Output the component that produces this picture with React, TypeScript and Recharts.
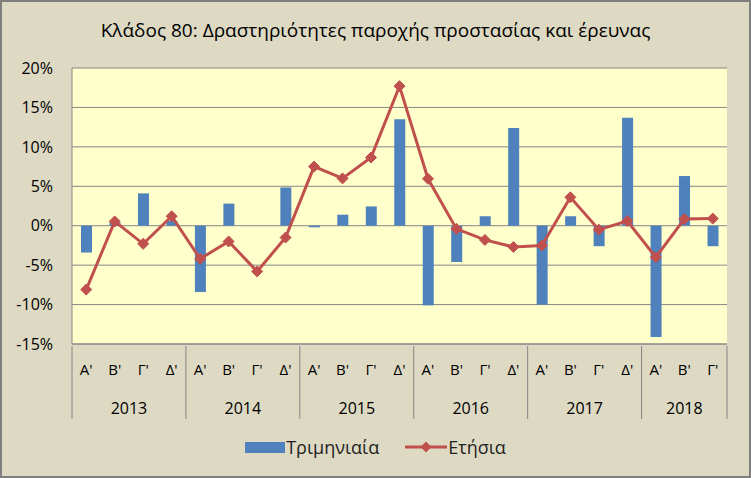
import React from 'react';
import {
  ComposedChart,
  Bar,
  Line,
  XAxis,
  YAxis,
  CartesianGrid,
} from 'recharts';

// quarter / year labels for each category
const quarterLabels = [
  "Α'", "Β'", "Γ'", "Δ'",
  "Α'", "Β'", "Γ'", "Δ'",
  "Α'", "Β'", "Γ'", "Δ'",
  "Α'", "Β'", "Γ'", "Δ'",
  "Α'", "Β'", "Γ'", "Δ'",
  "Α'", "Β'", "Γ'",
];
const yearLabels = [
  '2013', '2013', '2013', '2013',
  '2014', '2014', '2014', '2014',
  '2015', '2015', '2015', '2015',
  '2016', '2016', '2016', '2016',
  '2017', '2017', '2017', '2017',
  '2018', '2018', '2018',
];

// Τριμηνιαία (%)
const quarterly = [
  -3.4, 0.4, 4.1, 0.6,
  -8.4, 2.8, 0, 4.85,
  -0.2, 1.4, 2.45, 13.5,
  -10.1, -4.6, 1.2, 12.4,
  -10.0, 1.2, -2.6, 13.7,
  -14.1, 6.3, -2.6,
];
// Ετήσια (%)
const annual = [
  -8.1, 0.55, -2.3, 1.2,
  -4.2, -2.0, -5.8, -1.5,
  7.5, 6.0, 8.65, 17.7,
  5.95, -0.4, -1.8, -2.7,
  -2.5, 3.6, -0.5, 0.6,
  -4.0, 0.85, 0.9,
];
const yTicks = [-15, -10, -5, 0, 5, 10, 15, 20];

const data = quarterLabels.map((q, i) => ({
  key: i,
  q,
  year: yearLabels[i],
  quarterly: quarterly[i],
  annual: annual[i],
}));

const W = 751;
const H = 478;
const MARGIN = { top: 68, right: 24, left: 0, bottom: 60 };
const Y_AXIS_W = 72;
const Q_AXIS_H = 34;
const YEAR_AXIS_H = 40;
const PLOT_W = W - MARGIN.right - MARGIN.left - Y_AXIS_W;
const BAND = PLOT_W / data.length;

const FONT = '"Open Sans", "Noto Sans", sans-serif';
const BLUE = '#4F81BD';
const RED = '#C0504D';

const QuarterTick = (props: any) => {
  const { x, y, payload } = props;
  return (
    <text x={x} y={y + 29} textAnchor="middle" fontSize={15} fontFamily={FONT} fill="#000">
      {payload.value}
    </text>
  );
};

const YearTick = (props: any) => {
  const { x, y, payload } = props;
  const i = payload.index ?? props.index;
  const year = yearLabels[i];
  const isFirst = i === 0 || yearLabels[i - 1] !== year;
  const isLast = i === yearLabels.length - 1;
  const count = yearLabels.filter((v) => v === year).length;
  const top = y - Q_AXIS_H;
  const bottom = y + 39;
  return (
    <g>
      {isFirst && (
        <line x1={x - BAND / 2} x2={x - BAND / 2} y1={top} y2={bottom} stroke="#868686" strokeWidth={1} />
      )}
      {isLast && (
        <line x1={x + BAND / 2} x2={x + BAND / 2} y1={top} y2={bottom} stroke="#868686" strokeWidth={1} />
      )}
      {isFirst && (
        <text
          x={x + ((count - 1) * BAND) / 2}
          y={y + 34}
          textAnchor="middle"
          fontSize={16}
          fontFamily={FONT}
          fill="#000"
        >
          {year}
        </text>
      )}
    </g>
  );
};

const Diamond = (props: any) => {
  const { cx, cy } = props;
  if (cx == null || cy == null) return null;
  const r = 5.5;
  return (
    <polygon
      points={`${cx},${cy - r} ${cx + r},${cy} ${cx},${cy + r} ${cx - r},${cy}`}
      fill={RED}
      stroke={RED}
      strokeWidth={1}
    />
  );
};

export default function App() {
  return (
    <div style={{ position: 'relative', width: W, height: H, background: '#DDD9C3', fontFamily: FONT }}>
      <style>{'body{margin:0}'}</style>
      <div
        style={{
          position: 'absolute',
          top: 17,
          left: 0,
          width: W,
          textAlign: 'center',
          fontSize: 19,
          color: '#000',
        }}
      >
        Κλάδος 80: Δραστηριότητες παροχής προστασίας και έρευνας
      </div>
      <ComposedChart width={W} height={H} data={data} margin={MARGIN}>
        <CartesianGrid
          vertical={false}
          horizontal
          stroke="#868686"
          fill="#FFFFCC"
          fillOpacity={1}
        />
        <XAxis
          dataKey="q"
          interval={0}
          height={Q_AXIS_H}
          tickSize={0}
          tickLine={false}
          axisLine={{ stroke: '#868686' }}
          tick={<QuarterTick />}
        />
        <XAxis
          xAxisId="year"
          dataKey="key"
          interval={0}
          height={YEAR_AXIS_H}
          tickSize={0}
          tickLine={false}
          axisLine={false}
          tick={<YearTick />}
        />
        <YAxis
          width={Y_AXIS_W}
          domain={[-15, 20]}
          ticks={yTicks}
          tickFormatter={(v) => `${v}%`}
          tickSize={0}
          tickMargin={19}
          axisLine={{ stroke: '#868686' }}
          tickLine={false}
          tick={{ fill: '#000', fontSize: 16, fontFamily: FONT }}
          interval={0}
        />
        <Bar dataKey="quarterly" fill={BLUE} barSize={11} isAnimationActive={false} />
        <Line
          type="linear"
          dataKey="annual"
          stroke={RED}
          strokeWidth={3}
          dot={<Diamond />}
          activeDot={false}
          isAnimationActive={false}
        />
      </ComposedChart>
      {/* legend */}
      <div
        style={{
          position: 'absolute',
          top: 435,
          left: 0,
          width: W,
          display: 'flex',
          justifyContent: 'center',
          alignItems: 'center',
          fontSize: 18,
          color: '#222',
        }}
      >
        <div style={{ display: 'flex', alignItems: 'center', marginRight: 26 }}>
          <span style={{ display: 'inline-block', width: 40, height: 11, background: BLUE }} />
          <span style={{ marginLeft: 1 }}>Τριμηνιαία</span>
        </div>
        <div style={{ display: 'flex', alignItems: 'center' }}>
          <svg width={42} height={12}>
            <line x1={0} x2={42} y1={6} y2={6} stroke={RED} strokeWidth={3} />
            <polygon points="21,0.5 26.5,6 21,11.5 15.5,6" fill={RED} />
          </svg>
          <span style={{ marginLeft: 1 }}>Ετήσια</span>
        </div>
      </div>
      <div
        style={{
          position: 'absolute',
          inset: 0,
          border: '2px solid #7F7F7F',
          pointerEvents: 'none',
        }}
      />
    </div>
  );
}
